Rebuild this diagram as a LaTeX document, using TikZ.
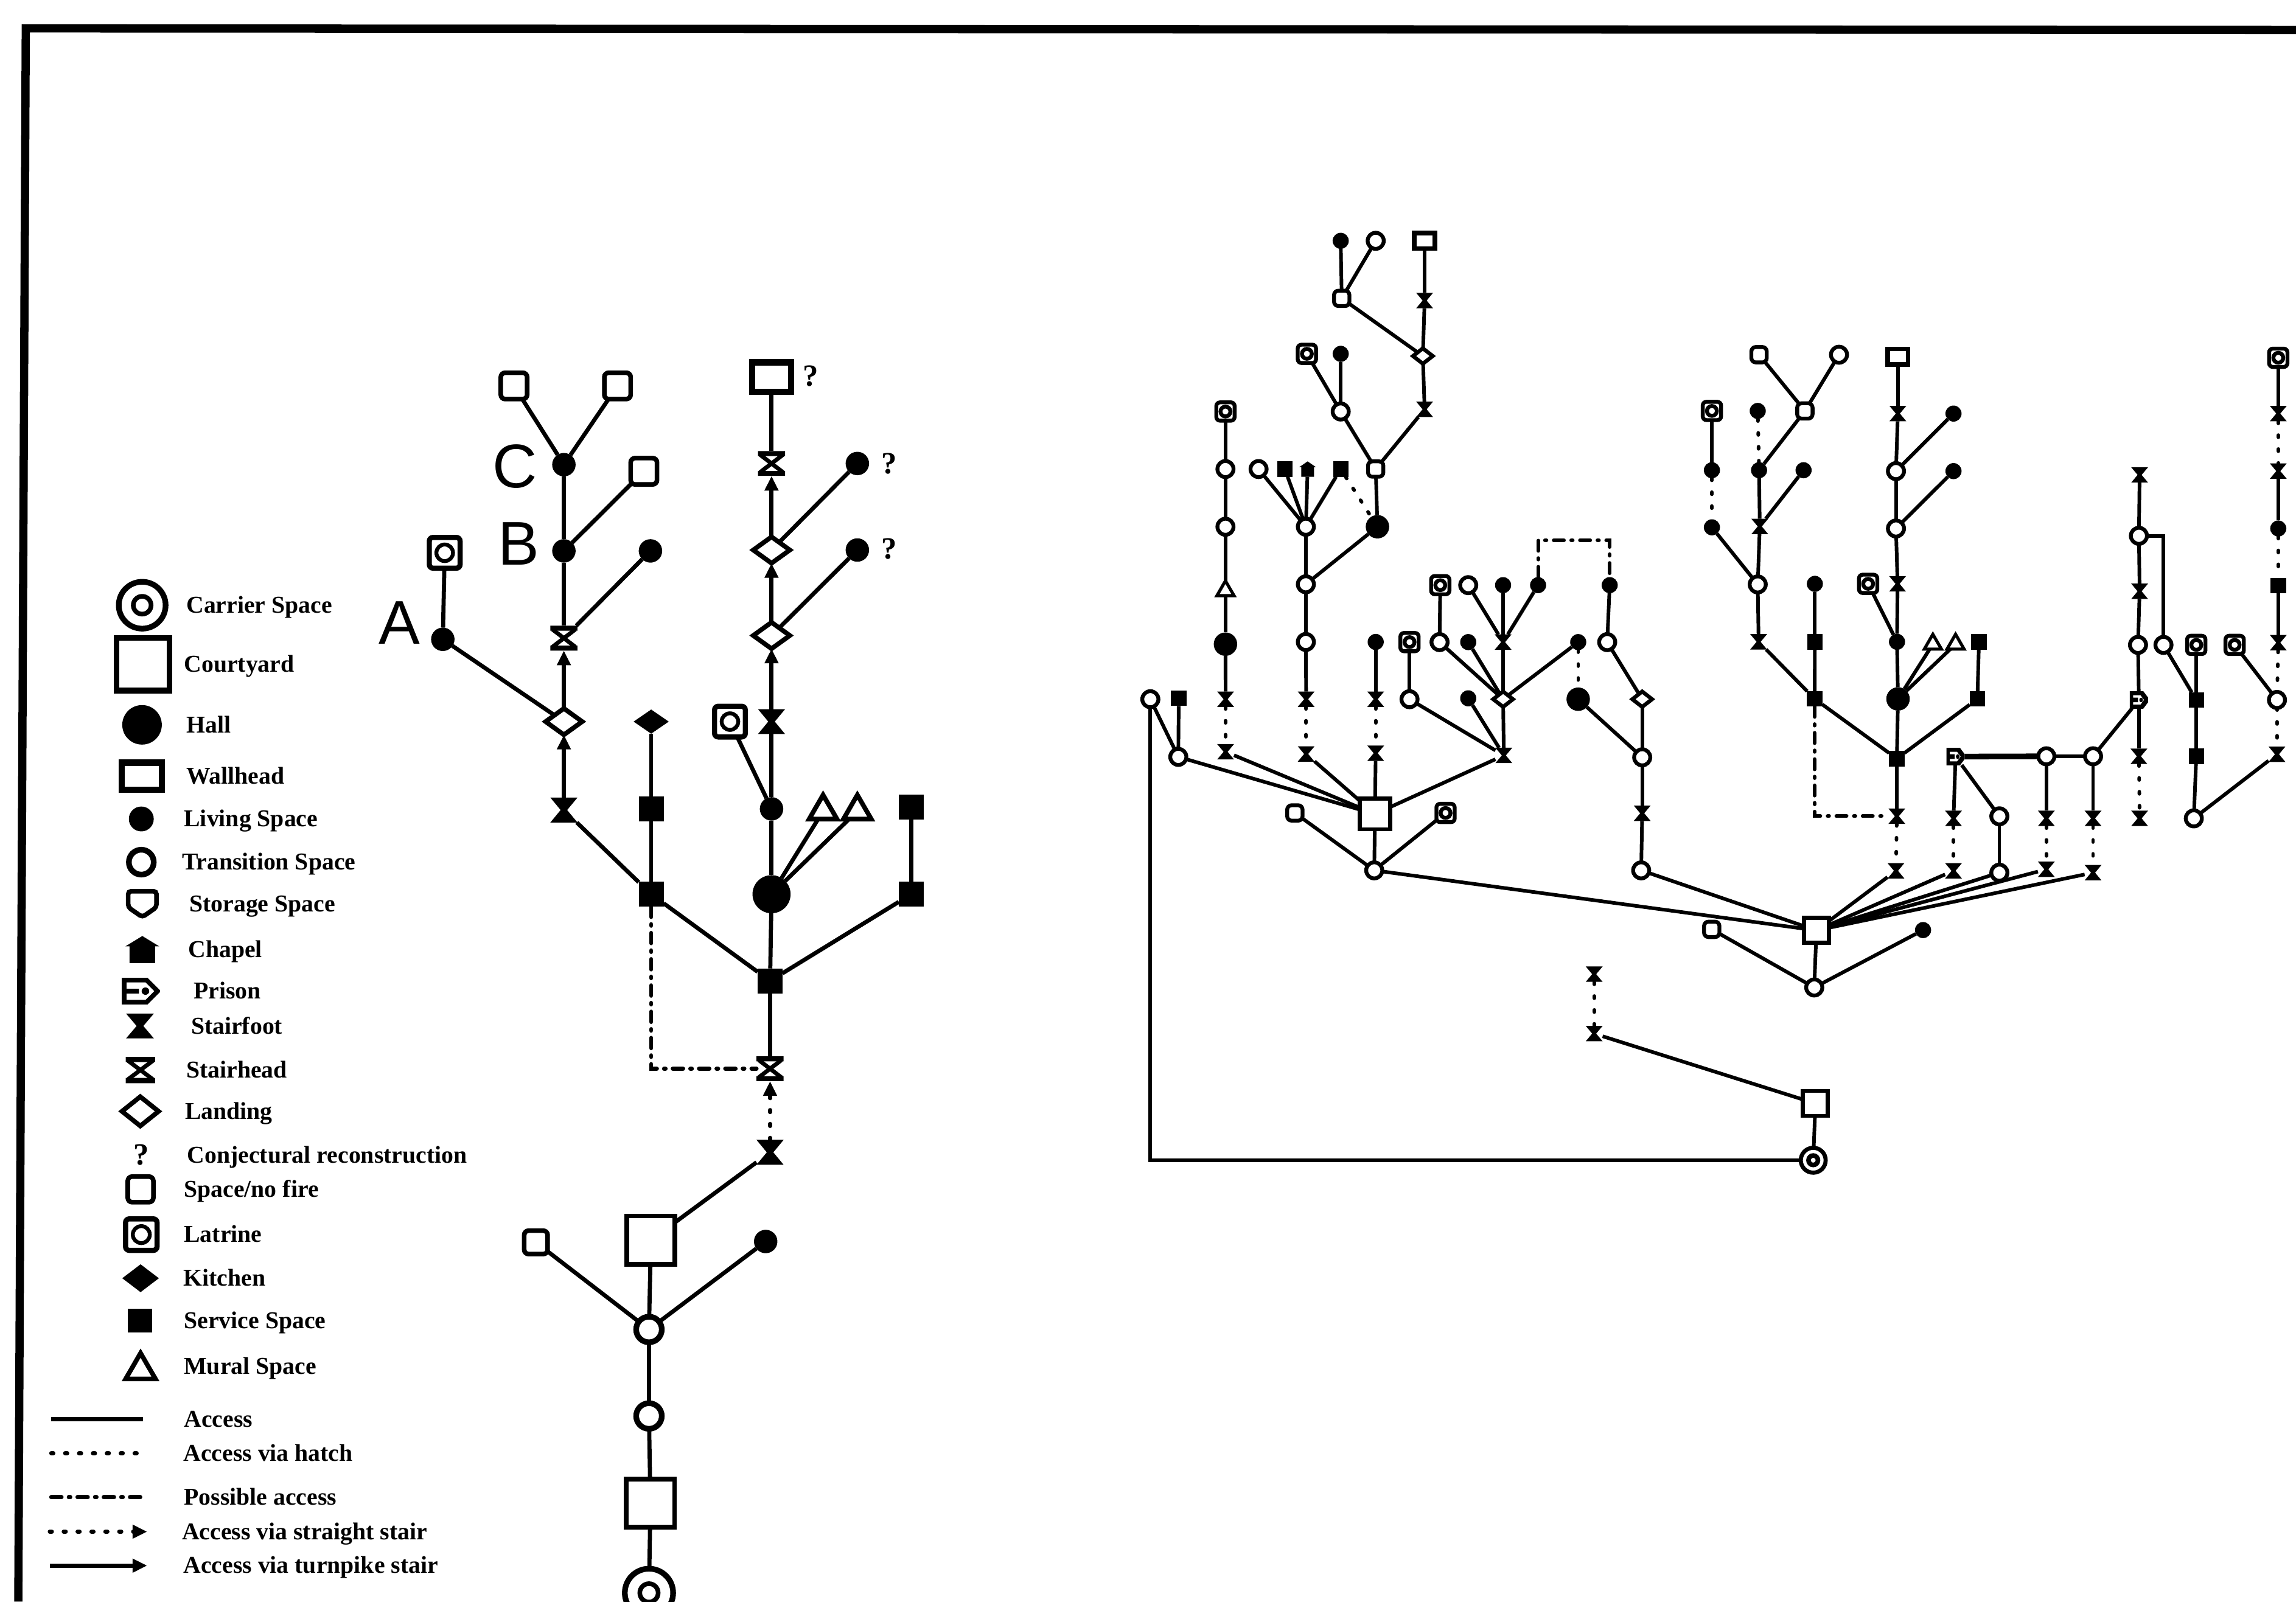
\documentclass[tikz,border=0pt]{standalone}
\usepackage{fontspec}
\setmainfont{Liberation Serif}
\newfontfamily\lettfont{Liberation Sans}
\usetikzlibrary{arrows.meta,shapes.geometric}
\tikzset{
  sym/.style={inner sep=0pt,outer sep=0pt,line width=0.9pt},
  % space symbols, size given where used
  sym-carrier/.style={sym,circle,draw,line width=1.1pt,minimum size=#1,
    path picture={\draw[line width=0.9pt] (path picture bounding box.center)
      circle[radius=0.19*#1];}},
  sym-court/.style={sym,rectangle,draw,fill=white,line width=1.1pt,minimum size=#1},
  sym-hall/.style={sym,circle,fill,minimum size=#1},
  sym-living/.style={sym,circle,fill,minimum size=#1},
  sym-trans/.style={sym,circle,draw,fill=white,line width=1.1pt,minimum size=#1},
  sym-wall/.style 2 args={sym,rectangle,draw,fill=white,line width=1.2pt,
    minimum width=#1,minimum height=#2},
  sym-nofire/.style={sym,rectangle,draw,fill=white,rounded corners=0.3mm,minimum size=#1},
  sym-latrine/.style={sym,rectangle,draw,fill=white,line width=1pt,
    rounded corners=0.25mm,minimum size=#1,
    path picture={\draw[line width=0.75pt] (path picture bounding box.center)
      circle[radius=0.27*#1];}},
  sym-kitchen/.style 2 args={sym,diamond,fill,minimum width=#1,minimum height=#2},
  sym-landing/.style 2 args={sym,diamond,draw,fill=white,minimum width=#1,minimum height=#2},
  sym-service/.style={sym,rectangle,fill,minimum size=#1},
  sym-mural/.style={sym,regular polygon,regular polygon sides=3,draw,fill=white,
    minimum size=#1},
  sym-foot/.style 2 args={sym,rectangle,minimum width=#1,minimum height=#2,
    path picture={\fill[shift={(path picture bounding box.center)},x=#1,y=#2]
      (-0.5,0.5) -- (0.5,0.5) -- (0.12,0) -- (0.5,-0.5) -- (-0.5,-0.5)
      -- (-0.12,0) -- cycle;}},
  sym-head/.style 2 args={sym,rectangle,minimum width=#1,minimum height=#2,
    path picture={\begin{scope}[shift={(path picture bounding box.center)},x=#1,y=#2]
      \fill (-0.5,0.5) rectangle (0.5,0.3) (-0.5,-0.5) rectangle (0.5,-0.3);
      \draw[line width=0.8pt] (-0.42,0.35) -- (0.42,-0.35) (0.42,0.35) -- (-0.42,-0.35);
    \end{scope}}},
  sym-chapel/.style 2 args={sym,rectangle,minimum width=#1,minimum height=#2,
    path picture={\fill[shift={(path picture bounding box.center)},x=#1,y=#2]
      (-0.38,-0.5) -- (0.38,-0.5) -- (0.38,0.12) -- (0.5,0.12) -- (0,0.5)
      -- (-0.5,0.12) -- (-0.38,0.12) -- cycle;}},
  sym-store/.style 2 args={sym,rectangle,minimum width=#1,minimum height=#2,
    path picture={\draw[shift={(path picture bounding box.center)},x=#1,y=#2,
      line width=0.9pt,rounded corners=0.2mm]
      (-0.42,0.42) -- (0.42,0.42) -- (0.42,-0.1) -- (0,-0.42) -- (-0.42,-0.1) -- cycle;}},
  sym-prison/.style 2 args={sym,rectangle,minimum width=#1,minimum height=#2,
    path picture={\begin{scope}[shift={(path picture bounding box.center)},x=#1,y=#2]
      \draw[line width=0.9pt] (-0.44,0.42) -- (0.15,0.42) -- (0.44,0) -- (0.15,-0.42)
        -- (-0.44,-0.42) -- cycle (-0.44,0) -- (-0.05,0);
      \fill (0.12,0) circle[x radius=0.1,y radius=0.14];
    \end{scope}}},
  % left plan
  l-living/.style={sym-living=1.6mm},
  l-hall/.style={sym-hall=2.6mm},
  l-nofire/.style={sym-nofire=1.8mm},
  l-latrine/.style={sym-latrine=2.1mm},
  l-head/.style={sym-head={1.85mm}{1.7mm}},
  l-foot/.style={sym-foot={1.85mm}{1.7mm}},
  l-landing/.style={sym-landing={2.5mm}{1.8mm}},
  l-kitchen/.style={sym-kitchen={2.4mm}{1.65mm}},
  l-service/.style={sym-service=1.7mm},
  l-mural/.style={sym-mural=2.2mm},
  l-court/.style={sym-court=3.3mm,line width=0.9pt},
  l-trans/.style={sym-trans=1.75mm},
  % right plan, smaller
  r-living/.style={sym-living=1.1mm},
  r-trans/.style={sym-trans=1.1mm,line width=0.75pt},
  r-hall/.style={sym-hall=1.6mm},
  r-foot/.style={sym-foot={1.15mm}{1.05mm}},
  r-latrine/.style={sym-latrine=1.25mm,line width=0.75pt},
  r-nofire/.style={sym-nofire=1.05mm,line width=0.75pt},
  r-service/.style={sym-service=1.05mm},
  r-landing/.style={sym-landing={1.35mm}{1.05mm},line width=0.75pt},
  r-mural/.style={sym-mural=1.35mm,line width=0.6pt},
  r-wall/.style={sym-wall={1.4mm}{1.05mm},line width=0.9pt},
  r-prison/.style={sym-prison={1.25mm}{1.15mm}},
  r-chapel/.style={sym-chapel={1.15mm}{1.05mm}},
  r-court/.style={sym-court=#1,line width=0.8pt},
  % connectors
  ln-access/.style={line width=#1},
  ln-access/.default=0.8pt,
  ln-hatch/.style={line width=#1,line cap=round,dash pattern=on 0.4pt off 2.3pt},
  ln-hatch/.default=0.8pt,
  ln-possible/.style={line width=#1,line cap=round,
    dash pattern=on 2pt off 1.4pt on 0.3pt off 1.4pt},
  ln-possible/.default=0.8pt,
  ln-straight/.style={ln-hatch,-{Triangle[length=1mm,width=0.9mm]}},
  ln-turnpike/.style={ln-access,-{Triangle[length=1mm,width=0.9mm]}},
  r-acc/.style={ln-access=0.7pt},
  r-dot/.style={ln-hatch=0.7pt},
  r-poss/.style={ln-possible=0.7pt},
  lgd-text/.style={anchor=base west,inner sep=0pt,font=\fontsize{4.7}{5}\selectfont\bfseries},
  lgd-q/.style={inner sep=0pt,font=\fontsize{6}{6}\selectfont\bfseries},
  lett/.style={inner sep=0pt,font=\lettfont\fontsize{12}{12}\selectfont},
}

\begin{document}
\begin{tikzpicture}[x=0.1mm,y=-0.1mm]
  \useasboundingbox (0,0) rectangle (1568,1094);
  \draw[line width=1.6pt] (12.5,1094) -- (17.6,19.4) -- (1568,20.5);

  % legend
  \node[sym-carrier=3.2mm] (k-carrier) at (97.1,413.4) {};
  \node[sym-court=3.6mm] (k-court) at (97.6,453.7) {};
  \node[sym-hall=2.7mm] (k-hall) at (97,495.1) {};
  \node[sym-wall={2.75mm}{1.85mm}] (k-wall) at (96.9,530.2) {};
  \node[sym-living=1.7mm] (k-living) at (96.5,559.4) {};
  \node[sym-trans=1.7mm] (k-trans) at (96.5,588.9) {};
  \node[sym-store={2.3mm}{2.1mm}] (k-store) at (97.2,617.6) {};
  \node[sym-chapel={2.3mm}{1.85mm}] (k-chapel) at (97.2,648.6) {};
  \node[sym-prison={2.6mm}{1.8mm}] (k-prison) at (96.2,677) {};
  \node[sym-foot={1.9mm}{1.7mm}] (k-foot) at (95.6,700.8) {};
  \node[sym-head={2mm}{1.8mm}] (k-head) at (95.9,730.9) {};
  \node[sym-landing={2.5mm}{2mm}] (k-landing) at (95.8,759.1) {};
  \node[lgd-q] (k-q) at (96.5,789) {?};
  \node[sym-nofire=1.75mm] (k-nofire) at (96,812.4) {};
  \node[sym-latrine=2.15mm] (k-latrine) at (96.5,843.3) {};
  \node[sym-kitchen={2.5mm}{1.9mm}] (k-kitchen) at (96,873.1) {};
  \node[sym-service=1.65mm] (k-service) at (95.7,902) {};
  \node[sym-mural=2.35mm] (k-mural) at (96,936) {};
  \coordinate (k-a1) at (35,969.4);   \coordinate (k-a2) at (97.5,969.4);
  \coordinate (k-h1) at (35,992.6);   \coordinate (k-h2) at (97.5,992.6);
  \coordinate (k-p1) at (35,1022.6);  \coordinate (k-p2) at (97.5,1022.6);
  \coordinate (k-s1) at (34,1046.2);  \coordinate (k-s2) at (100.5,1046.2);
  \coordinate (k-t1) at (34,1069.4);  \coordinate (k-t2) at (100.5,1069.4);
  \draw[ln-access] (k-a1) -- (k-a2);
  \draw[ln-hatch] (k-h1) -- (k-h2);
  \draw[ln-possible] (k-p1) -- (k-p2);
  \draw[ln-straight] (k-s1) -- (k-s2);
  \draw[ln-turnpike] (k-t1) -- (k-t2);

  \node[lgd-text] (t-carrier) at (126.6,418.7) {Carrier Space};
  \node[lgd-text] (t-court) at (125,459) {Courtyard};
  \node[lgd-text] (t-hall) at (126.6,500.4) {Hall};
  \node[lgd-text] (t-wall) at (126.6,535.5) {Wallhead};
  \node[lgd-text] (t-living) at (125,564.7) {Living Space};
  \node[lgd-text] (t-trans) at (123.6,594.2) {Transition Space};
  \node[lgd-text] (t-store) at (128.7,622.9) {Storage Space};
  \node[lgd-text] (t-chapel) at (127.9,653.9) {Chapel};
  \node[lgd-text] (t-prison) at (131.5,682.3) {Prison};
  \node[lgd-text] (t-foot) at (129.8,706.1) {Stairfoot};
  \node[lgd-text] (t-head) at (126.6,736.2) {Stairhead};
  \node[lgd-text] (t-landing) at (125.7,764.4) {Landing};
  \node[lgd-text] (t-q) at (127.2,794.3) {Conjectural reconstruction};
  \node[lgd-text] (t-nofire) at (125,817.7) {Space/no fire};
  \node[lgd-text] (t-latrine) at (125,848.6) {Latrine};
  \node[lgd-text] (t-kitchen) at (124.6,878.4) {Kitchen};
  \node[lgd-text] (t-service) at (125,907.3) {Service Space};
  \node[lgd-text] (t-mural) at (125,938.5) {Mural Space};
  \node[lgd-text] (t-access) at (125,974.7) {Access};
  \node[lgd-text] (t-hatch) at (124.6,997.9) {Access via hatch};
  \node[lgd-text] (t-possible) at (125,1027.9) {Possible access};
  \node[lgd-text] (t-straight) at (123.6,1051.5) {Access via straight stair};
  \node[lgd-text] (t-turnpike) at (124.6,1074.7) {Access via turnpike stair};

  % left plan
  \node[l-nofire] (l-sqA) at (351,263.6) {};
  \node[l-nofire] (l-sqB) at (421.7,263.6) {};
  \node[l-living] (l-C) at (385.1,317.4) {};
  \node[l-nofire] (l-sqC) at (439.7,321.9) {};
  \node[l-living] (l-B) at (385.1,376.3) {};
  \node[l-living] (l-livB) at (444.2,376.3) {};
  \node[l-head] (l-head1) at (385.1,435.9) {};
  \node[l-living] (l-A) at (302.4,436.7) {};
  \node[l-latrine] (l-latA) at (303.7,377.6) {};
  \node[l-landing] (l-land1) at (385.1,492.9) {};
  \node[l-foot] (l-foot1) at (385.1,553.3) {};
  \node[l-kitchen] (l-kitchen) at (444.7,492.9) {};
  \node[l-service] (l-serv1) at (444.7,552.5) {};
  \node[l-service] (l-serv2) at (444.7,610.8) {};
  \node[sym-wall={2.65mm}{2mm}] (l-wall) at (526.9,257.5) {};
  \node[l-head] (l-head2) at (526.9,316.6) {};
  \node[l-living] (l-liv2) at (585.5,316.6) {};
  \node[l-landing] (l-land2) at (526.9,375.7) {};
  \node[l-living] (l-liv3) at (585.5,375.7) {};
  \node[l-landing] (l-land3) at (526.9,434.1) {};
  \node[l-foot] (l-foot2) at (526.9,492.9) {};
  \node[l-latrine] (l-lat2) at (498.5,492.9) {};
  \node[l-living] (l-liv4) at (526.9,552.5) {};
  \node[l-mural] (l-mur1) at (562.1,554) {};
  \node[l-mural] (l-mur2) at (585.5,554) {};
  \node[l-service] (l-serv3) at (622.3,551.2) {};
  \node[l-hall] (l-hall) at (526.9,610.8) {};
  \node[l-service] (l-serv4) at (622.3,610.8) {};
  \node[l-service] (l-serv5) at (525.9,670) {};
  \node[l-head] (l-head3) at (525.9,730) {};
  \node[l-foot] (l-foot3) at (525.9,787.1) {};
  \node[l-court] (l-court1) at (444.5,847.1) {};
  \node[sym-nofire=1.6mm] (l-sqD) at (366,848.6) {};
  \node[l-living] (l-liv5) at (522.9,848) {};
  \node[l-trans] (l-trans1) at (443.2,908.1) {};
  \node[l-trans] (l-trans2) at (443.2,967.2) {};
  \node[l-court] (l-court2) at (444.2,1026.7) {};
  \node[sym-carrier=3.3mm] (l-carrier) at (443.2,1088) {};
  \node[lgd-q] (l-q1) at (553.6,257) {?};
  \node[lgd-q] (l-q2) at (607.2,316.6) {?};
  \node[lgd-q] (l-q3) at (607.2,375) {?};
  \node[lett] (l-tA) at (272.6,425.3) {A};
  \node[lett] (l-tB) at (354.4,371.3) {B};
  \node[lett] (l-tC) at (351.5,318.7) {C};

  \draw[ln-access] (l-sqA) -- (l-C);
  \draw[ln-access] (l-sqB) -- (l-C);
  \draw[ln-access] (l-C) -- (l-B);
  \draw[ln-access] (l-B) -- (l-sqC);
  \draw[ln-access] (l-B) -- (l-head1);
  \draw[ln-access] (l-head1) -- (l-livB);
  \draw[ln-turnpike] (l-land1) -- (l-head1);
  \draw[ln-access] (l-latA) -- (l-A);
  \draw[ln-access] (l-A) -- (l-land1);
  \draw[ln-turnpike] (l-foot1) -- (l-land1);
  \draw[ln-access] (l-foot1) -- (l-serv2);
  \draw[ln-access] (l-kitchen) -- (l-serv1);
  \draw[ln-access] (l-serv1) -- (l-serv2);
  \draw[ln-access] (l-serv2) -- (l-serv5);
  \draw[ln-access] (l-wall) -- (l-head2);
  \draw[ln-turnpike] (l-land2) -- (l-head2);
  \draw[ln-access] (l-land2) -- (l-liv2);
  \draw[ln-turnpike] (l-land3) -- (l-land2);
  \draw[ln-access] (l-land3) -- (l-liv3);
  \draw[ln-turnpike] (l-foot2) -- (l-land3);
  \draw[ln-access] (l-foot2) -- (l-liv4);
  \draw[ln-access] (l-lat2) -- (l-liv4);
  \draw[ln-access] (l-liv4) -- (l-hall);
  \draw[ln-access] (l-hall) -- (l-mur1);
  \draw[ln-access] (l-hall) -- (l-mur2);
  \draw[ln-access] (l-hall) -- (l-serv5);
  \draw[ln-access] (l-serv3) -- (l-serv4);
  \draw[ln-access] (l-serv4) -- (l-serv5);
  \draw[ln-access] (l-serv5) -- (l-head3);
  \draw[ln-possible] (l-serv2) |- (l-head3);
  \draw[ln-straight] (l-foot3) -- (l-head3);
  \draw[ln-access] (l-foot3) -- (l-court1);
  \draw[ln-access] (l-court1) -- (l-trans1);
  \draw[ln-access] (l-sqD) -- (l-trans1);
  \draw[ln-access] (l-liv5) -- (l-trans1);
  \draw[ln-access] (l-trans1) -- (l-trans2);
  \draw[ln-access] (l-trans2) -- (l-court2);
  \draw[ln-access] (l-court2) -- (l-carrier);

  % right plan: entry
  \node[sym-carrier=1.7mm,line width=0.8pt] (r-carrier) at (1238.3,792.5) {};
  \node[r-court=1.7mm] (r-court3) at (1239.8,753.7) {};
  \node[r-foot] (r-foot9) at (1088.7,706) {};
  \node[r-foot] (r-foot9b) at (1088.7,665.4) {};
  \node[r-trans] (r-trA) at (785.6,477.6) {};
  % right plan: west court
  \node[r-court=2.1mm] (r-court1) at (939,556) {};
  \node[r-trans] (r-tr1) at (938.5,594.5) {};
  \node[r-nofire] (r-sq1) at (884.3,555.3) {};
  \node[r-latrine] (r-lat1) at (987.2,555.3) {};
  \node[r-service] (r-serv1) at (805,477) {};
  \node[r-trans] (r-tr2) at (804.7,517) {};
  \node[r-latrine] (r-lat2) at (836.9,281.1) {};
  \node[r-trans] (r-tr3) at (836.9,320.4) {};
  \node[r-trans] (r-tr4) at (836.9,359.8) {};
  \node[r-mural] (r-mur1) at (836.9,403.5) {};
  \node[r-hall] (r-hall1) at (836.9,440) {};
  \node[r-foot] (r-foot1) at (837,477.6) {};
  \node[r-foot] (r-foot2) at (837,513.5) {};
  \node[r-trans] (r-tr5) at (859.5,320.4) {};
  \node[r-service] (r-serv2) at (877.4,320.4) {};
  \node[r-chapel] (r-chap) at (893,320.4) {};
  \node[r-service] (r-serv3) at (915.6,320.4) {};
  \node[r-trans] (r-tr6) at (891.8,359.8) {};
  \node[r-hall] (r-hall2) at (940.7,359.8) {};
  \node[r-nofire] (r-sq2) at (939.5,320.4) {};
  \node[r-trans] (r-tr7) at (915.6,281.1) {};
  \node[r-latrine] (r-lat3) at (892.5,241.7) {};
  \node[r-living] (r-liv2) at (915.6,241.7) {};
  \node[r-nofire] (r-sq3) at (916.3,203.8) {};
  \node[r-living] (r-liv3) at (915.6,164.5) {};
  \node[r-trans] (r-tr8) at (939.5,164.5) {};
  \node[r-wall] (r-wall1) at (972.9,164.5) {};
  \node[r-foot] (r-foot3) at (972.9,205.3) {};
  \node[r-landing] (r-land1) at (971.7,243.2) {};
  \node[r-foot] (r-foot4) at (972.9,279.6) {};
  \node[r-trans] (r-tr9) at (891.8,399.1) {};
  \node[r-trans] (r-tr10) at (891.8,438.5) {};
  \node[r-foot] (r-foot5) at (892,477.6) {};
  \node[r-foot] (r-foot6) at (892,515) {};
  \node[r-living] (r-liv4) at (939.5,438.5) {};
  \node[r-foot] (r-foot7) at (939.5,477.6) {};
  \node[r-foot] (r-foot8) at (939.5,514.5) {};
  \node[r-foot] (r-foot10) at (1027,516) {};
  \node[r-trans] (r-tr11) at (962.6,477.6) {};
  \node[r-latrine] (r-lat4) at (962.6,438.6) {};
  \node[r-living] (r-liv5) at (1002.7,477) {};
  \node[r-landing] (r-land2) at (1026.5,477.6) {};
  \node[r-trans] (r-tr12) at (983.1,438.6) {};
  \node[r-living] (r-liv6) at (1002.7,438.6) {};
  \node[r-foot] (r-foot11) at (1026.5,438.6) {};
  \node[r-living] (r-liv7) at (1077.8,438.6) {};
  \node[r-latrine] (r-lat5) at (983.6,399.7) {};
  \node[r-trans] (r-tr13) at (1002.7,399.7) {};
  \node[r-living] (r-liv8) at (1026.5,399.7) {};
  \node[r-living] (r-liv9) at (1050.4,399.7) {};
  \node[r-living] (r-liv10) at (1099.3,399.7) {};
  \coordinate (r-br) at (1075,369);
  \node[r-hall] (r-hall3) at (1077.8,477.6) {};
  \node[r-trans] (r-tr15) at (1097.6,438.6) {};
  \node[r-landing] (r-land3) at (1121.5,477.6) {};
  \node[r-trans] (r-tr14) at (1121.5,517.3) {};
  \node[r-foot] (r-foot12) at (1121.5,555.5) {};
  \node[r-trans] (r-tr16) at (1120.8,594.5) {};
  % right plan: east court
  \node[r-court=1.7mm] (r-court2) at (1240.5,635.5) {};
  \node[r-trans] (r-tr17) at (1239,674.5) {};
  \node[r-nofire] (r-sq4) at (1169,634.8) {};
  \node[r-living] (r-liv11) at (1313.3,635.3) {};
  \node[r-foot] (r-foot13) at (1294.8,594.8) {};
  \node[r-foot] (r-foot14) at (1334.1,594.8) {};
  \node[r-trans] (r-tr18) at (1365.4,596.1) {};
  \node[r-foot] (r-foot15) at (1397.5,593.8) {};
  \node[r-foot] (r-foot16) at (1429.4,596.1) {};
  \node[r-foot] (r-foot17) at (1295.4,557.5) {};
  \node[r-service] (r-serv4) at (1295.4,518.2) {};
  \node[r-service] (r-serv10) at (1239.3,477.4) {};
  \node[r-hall] (r-hall4) at (1296.2,477.4) {};
  \node[r-service] (r-serv5) at (1350.4,477.4) {};
  \node[r-foot] (r-foot19) at (1201,438.4) {};
  \node[r-service] (r-serv6) at (1239.4,438.4) {};
  \node[r-living] (r-liv12) at (1239.4,398.8) {};
  \node[r-living] (r-liv13) at (1295.5,438.4) {};
  \node[r-mural] (r-mur3) at (1320,440) {};
  \node[r-mural] (r-mur4) at (1335.5,440) {};
  \node[r-service] (r-serv11) at (1351.5,438.4) {};
  \node[r-latrine] (r-lat6) at (1275.8,398.8) {};
  \node[r-foot] (r-foot20) at (1295.9,398.8) {};
  \node[r-trans] (r-land4) at (1294.8,361) {};
  \node[r-living] (r-liv15) at (1334.1,321.8) {};
  \node[r-trans] (r-tr19) at (1294.8,321.8) {};
  \node[r-living] (r-liv16) at (1334.1,282.5) {};
  \node[r-foot] (r-foot21) at (1296.1,282.5) {};
  \node[r-wall] (r-wall2) at (1296.1,243.6) {};
  \node[r-trans] (r-tr20) at (1200.4,399.2) {};
  \node[r-foot] (r-foot22) at (1201.8,359.6) {};
  \node[r-living] (r-liv17) at (1169.1,360.2) {};
  \node[r-living] (r-liv18) at (1201.3,321.2) {};
  \node[r-living] (r-liv19) at (1231.7,321.2) {};
  \node[r-living] (r-liv20) at (1169.1,321.2) {};
  \node[r-latrine] (r-lat7) at (1169.1,280.7) {};
  \node[r-living] (r-liv21) at (1200.4,280.7) {};
  \node[r-nofire] (r-sq5) at (1232.6,280.7) {};
  \node[r-nofire] (r-sq6) at (1201.3,242.3) {};
  \node[r-trans] (r-tr21) at (1255.9,242.3) {};
  % right plan: east wing
  \node[r-foot] (r-foot33) at (1461.2,324.4) {};
  \node[r-trans] (r-tr22) at (1460.7,366) {};
  \node[r-foot] (r-foot23) at (1461.2,403.9) {};
  \node[r-trans] (r-tr23) at (1460.1,440.5) {};
  \node[r-prison] (r-pris1) at (1460.7,478.1) {};
  \node[r-foot] (r-foot24) at (1460.7,516.6) {};
  \node[r-foot] (r-foot25) at (1461.2,559) {};
  \node[r-trans] (r-tr24) at (1477.5,440.5) {};
  \node[r-prison] (r-pris2) at (1335.5,516.8) {};
  \node[r-trans] (r-tr25) at (1397.5,516.6) {};
  \node[r-trans] (r-tr26) at (1429.4,516.6) {};
  \node[r-foot] (r-foot26) at (1334.1,559) {};
  \node[r-trans] (r-tr27) at (1365.4,557.6) {};
  \node[r-foot] (r-foot27) at (1397.5,559) {};
  \node[r-foot] (r-foot28) at (1429.4,559) {};
  \node[r-latrine] (r-lat8) at (1499.9,440.5) {};
  \node[r-latrine] (r-lat9) at (1526.1,440.5) {};
  \node[r-service] (r-serv7) at (1499.9,478.1) {};
  \node[r-service] (r-serv8) at (1499.9,516.6) {};
  \node[r-trans] (r-tr28) at (1498.2,559) {};
  \node[r-latrine] (r-lat10) at (1555.9,244.4) {};
  \node[r-foot] (r-foot29) at (1555.9,282.5) {};
  \node[r-foot] (r-foot30) at (1555.9,321.8) {};
  \node[r-living] (r-liv22) at (1555.9,361) {};
  \node[r-service] (r-serv9) at (1555.9,400) {};
  \node[r-foot] (r-foot31) at (1555.9,439) {};
  \node[r-trans] (r-tr29) at (1555,478.1) {};
  \node[r-foot] (r-foot32) at (1555,515.2) {};

  \draw[r-acc] (r-carrier) -- (r-court3);
  \draw[r-acc] (r-court3) -- (r-foot9);
  \draw[r-dot] (r-foot9) -- (r-foot9b);
  \draw[r-acc] (r-carrier) -| (r-trA);
  \draw[r-acc] (r-trA) -- (r-tr2);
  \draw[r-acc] (r-serv1) -- (r-tr2);
  \draw[r-acc] (r-tr2) -- (r-court1);
  \draw[r-acc] (r-court1) -- (r-tr1);
  \draw[r-acc] (r-sq1) -- (r-tr1);
  \draw[r-acc] (r-lat1) -- (r-tr1);
  \draw[r-acc] (r-lat2) -- (r-tr3);
  \draw[r-acc] (r-tr3) -- (r-tr4);
  \draw[r-acc] (r-tr4) -- (r-mur1);
  \draw[r-acc] (r-mur1) -- (r-hall1);
  \draw[r-acc] (r-hall1) -- (r-foot1);
  \draw[r-dot] (r-foot1) -- (r-foot2);
  \draw[r-acc] (r-foot2) -- (r-court1);
  \draw[r-acc] (r-liv3) -- (r-sq3);
  \draw[r-acc] (r-tr8) -- (r-sq3);
  \draw[r-acc] (r-sq3) -- (r-land1);
  \draw[r-acc] (r-wall1) -- (r-foot3);
  \draw[r-acc] (r-foot3) -- (r-land1);
  \draw[r-acc] (r-land1) -- (r-foot4);
  \draw[r-acc] (r-lat3) -- (r-tr7);
  \draw[r-acc] (r-liv2) -- (r-tr7);
  \draw[r-acc] (r-tr7) -- (r-sq2);
  \draw[r-acc] (r-foot4) -- (r-sq2);
  \draw[r-acc] (r-sq2) -- (r-hall2);
  \draw[r-acc] (r-tr5) -- (r-tr6);
  \draw[r-acc] (r-serv2) -- (r-tr6);
  \draw[r-acc] (r-chap) -- (r-tr6);
  \draw[r-acc] (r-serv3) -- (r-tr6);
  \draw[r-dot] (r-serv3) -- (r-hall2);
  \draw[r-acc] (r-tr6) -- (r-tr9);
  \draw[r-acc] (r-hall2) -- (r-tr9);
  \draw[r-acc] (r-tr9) -- (r-tr10);
  \draw[r-acc] (r-tr10) -- (r-foot5);
  \draw[r-dot] (r-foot5) -- (r-foot6);
  \draw[r-acc] (r-foot6) -- (r-court1);
  \draw[r-acc] (r-liv4) -- (r-foot7);
  \draw[r-dot] (r-foot7) -- (r-foot8);
  \draw[r-acc] (r-foot8) -- (r-court1);
  \draw[r-acc] (r-lat4) -- (r-tr11);
  \draw[r-acc] (r-tr11) -- (r-foot10);
  \draw[r-acc] (r-liv5) -- (r-foot10);
  \draw[r-acc] (r-land2) -- (r-foot10);
  \draw[r-acc] (r-foot10) -- (r-court1);
  \draw[r-acc] (r-tr12) -- (r-land2);
  \draw[r-acc] (r-liv6) -- (r-land2);
  \draw[r-acc] (r-foot11) -- (r-land2);
  \draw[r-acc] (r-liv7) -- (r-land2);
  \draw[r-acc] (r-lat5) -- (r-tr12);
  \draw[r-acc] (r-tr13) -- (r-foot11);
  \draw[r-acc] (r-liv8) -- (r-foot11);
  \draw[r-acc] (r-liv9) -- (r-foot11);
  \draw[r-poss] (r-liv9) |- (r-br) -| (r-liv10);
  \draw[r-dot] (r-liv7) -- (r-hall3);
  \draw[r-acc] (r-hall3) -- (r-tr14);
  \draw[r-acc] (r-liv10) -- (r-tr15);
  \draw[r-acc] (r-tr15) -- (r-land3);
  \draw[r-acc] (r-land3) -- (r-tr14);
  \draw[r-acc] (r-tr14) -- (r-foot12);
  \draw[r-acc] (r-foot12) -- (r-tr16);
  \draw[r-acc] (r-tr16) -- (r-court2);
  \draw[r-acc] (r-tr1) -- (r-court2);

  \draw[r-acc] (r-court2) -- (r-tr17);
  \draw[r-acc] (r-sq4) -- (r-tr17);
  \draw[r-acc] (r-liv11) -- (r-tr17);
  \draw[r-acc] (r-court2) -- (r-foot13);
  \draw[r-acc] (r-court2) -- (r-foot14);
  \draw[r-acc] (r-court2) -- (r-tr18);
  \draw[r-acc] (r-court2) -- (r-foot15);
  \draw[r-acc] (r-court2) -- (r-foot16);
  \draw[r-dot] (r-foot17) -- (r-foot13);
  \draw[r-acc] (r-serv4) -- (r-foot17);
  \draw[r-poss] (r-serv10) |- (r-foot17);
  \draw[r-acc] (r-serv10) -- (r-serv4);
  \draw[r-acc] (r-hall4) -- (r-serv4);
  \draw[r-acc] (r-serv5) -- (r-serv4);
  \draw[r-acc] (r-foot19) -- (r-serv10);
  \draw[r-acc] (r-serv6) -- (r-serv10);
  \draw[r-acc] (r-liv12) -- (r-serv6);
  \draw[r-acc] (r-liv13) -- (r-hall4);
  \draw[r-acc] (r-mur3) -- (r-hall4);
  \draw[r-acc] (r-mur4) -- (r-hall4);
  \draw[r-acc] (r-serv11) -- (r-serv5);
  \draw[r-acc] (r-lat6) -- (r-liv13);
  \draw[r-acc] (r-foot20) -- (r-liv13);
  \draw[r-acc] (r-land4) -- (r-foot20);
  \draw[r-acc] (r-land4) -- (r-liv15);
  \draw[r-acc] (r-tr19) -- (r-land4);
  \draw[r-acc] (r-tr19) -- (r-liv16);
  \draw[r-acc] (r-foot21) -- (r-tr19);
  \draw[r-acc] (r-wall2) -- (r-foot21);
  \draw[r-acc] (r-tr20) -- (r-foot19);
  \draw[r-acc] (r-foot22) -- (r-tr20);
  \draw[r-acc] (r-liv17) -- (r-tr20);
  \draw[r-acc] (r-liv18) -- (r-foot22);
  \draw[r-acc] (r-liv19) -- (r-foot22);
  \draw[r-dot] (r-liv20) -- (r-liv17);
  \draw[r-acc] (r-lat7) -- (r-liv20);
  \draw[r-dot] (r-liv21) -- (r-liv18);
  \draw[r-acc] (r-sq5) -- (r-liv18);
  \draw[r-acc] (r-sq6) -- (r-sq5);
  \draw[r-acc] (r-tr21) -- (r-sq5);

  \draw[r-acc] (r-foot33) -- (r-tr22);
  \draw[r-acc] (r-tr22) -- (r-foot23);
  \draw[r-acc] (r-foot23) -- (r-tr23);
  \draw[r-acc] (r-tr23) -- (r-pris1);
  \draw[r-acc] (r-pris1) -- (r-foot24);
  \draw[r-dot] (r-foot24) -- (r-foot25);
  \draw[r-acc] (r-tr22) -| (r-tr24);
  \draw[r-acc] (r-tr24) -- (r-serv7);
  \draw[r-acc] (r-lat8) -- (r-serv7);
  \draw[r-acc] (r-serv7) -- (r-serv8);
  \draw[r-acc] (r-serv8) -- (r-tr28);
  \draw[r-acc] (r-pris1) -- (r-tr26);
  \draw[r-acc] (r-tr25) -- (r-tr26);
  \draw[ln-access=1.1pt] (r-pris2) -- (r-tr25);
  \draw[r-acc] (r-pris2) -- (r-foot26);
  \draw[r-acc] (r-pris2) -- (r-tr27);
  \draw[r-acc] (r-tr25) -- (r-foot27);
  \draw[r-acc] (r-tr26) -- (r-foot28);
  \draw[r-dot] (r-foot26) -- (r-foot14);
  \draw[r-acc] (r-tr27) -- (r-tr18);
  \draw[r-dot] (r-foot27) -- (r-foot15);
  \draw[r-dot] (r-foot28) -- (r-foot16);
  \draw[r-acc] (r-lat10) -- (r-foot29);
  \draw[r-dot] (r-foot29) -- (r-foot30);
  \draw[r-acc] (r-foot30) -- (r-liv22);
  \draw[r-dot] (r-liv22) -- (r-serv9);
  \draw[r-acc] (r-serv9) -- (r-foot31);
  \draw[r-dot] (r-foot31) -- (r-tr29);
  \draw[r-dot] (r-tr29) -- (r-foot32);
  \draw[r-acc] (r-foot32) -- (r-tr28);
  \draw[r-acc] (r-lat9) -- (r-tr29);
\end{tikzpicture}
\end{document}
